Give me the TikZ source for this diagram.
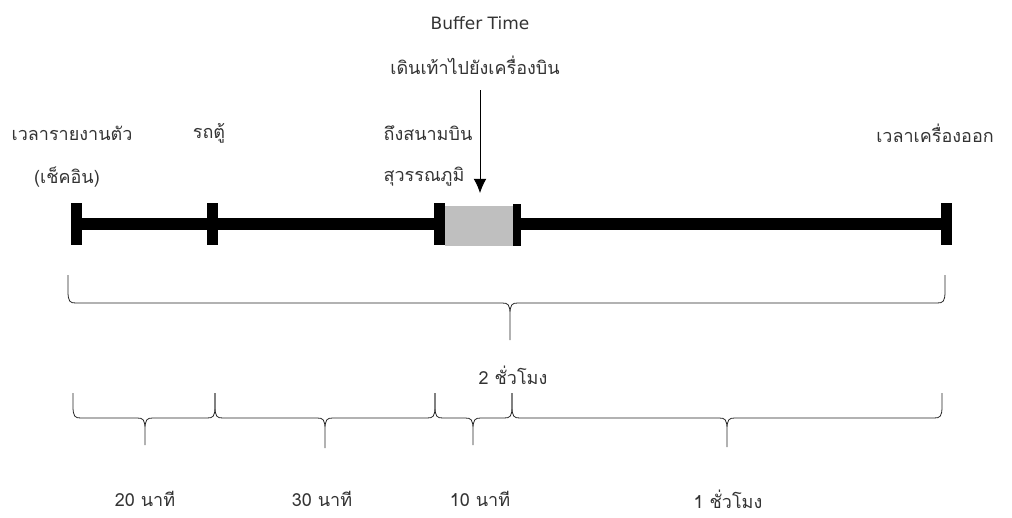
\documentclass[tikz,border=0pt]{standalone}
\usepackage{fontspec}
\newfontfamily\thaifont[Script=Thai]{Loma}
\newfontfamily\latinfont{DejaVu Sans}
\usetikzlibrary{arrows.meta}
% brace: x1, x2, xtip, ytop, ymid, ytip
\newcommand{\timebrace}[6]{%
  \draw[brc] (#1,#4) -- (#1,#5-12) .. controls (#1,#5-1) and (#1+2,#5) .. (#1+8,#5)
    -- (#3-8,#5) .. controls (#3-2,#5) and (#3,#5+1) .. (#3,#5+12) -- (#3,#6)
    -- (#3,#5+12) .. controls (#3,#5+1) and (#3+2,#5) .. (#3+8,#5)
    -- (#2-8,#5) .. controls (#2-2,#5) and (#2,#5-1) .. (#2,#5-12) -- (#2,#4);}

\begin{document}
\begin{tikzpicture}[x=1pt, y=-1pt, >={Latex[length=5mm,width=4.5mm]},
  lbl/.style={font=\thaifont\fontsize{18}{22}\selectfont, text=black!80, inner sep=0pt},
  tickmark/.style={fill=black, inner sep=0pt, minimum width=11pt, minimum height=42pt},
  brc/.style={line width=0.8pt, black!85}]
  \useasboundingbox (0,0) rectangle (1012,517);

  % labels above the line
  \node[lbl, font=\latinfont\fontsize{17}{20}\selectfont] (buffer) at (480,23) {Buffer Time};
  \node[lbl] (walk) at (475,65) {เดินเท้าไปยังเครื่องบิน};
  \node[lbl] (report) at (72,133) {เวลารายงานตัว};
  \node[lbl] (checkin) at (67,177) {(เช็คอิน)};
  \node[lbl] (van) at (209,133) {รถตู้};
  \node[lbl] (arrive) at (428,133) {ถึงสนามบิน};
  \node[lbl] (suvarna) at (424,177) {สุวรรณภูมิ};
  \node[lbl] (depart) at (935,133) {เวลาเครื่องออก};

  % time line
  \node[tickmark] (t1) at (76,224) {};
  \node[tickmark] (t2) at (212,224) {};
  \node[tickmark] (t3) at (439,224) {};
  \node[tickmark, minimum width=8pt] (t4) at (517,225) {};
  \node[tickmark] (t5) at (946,224) {};
  \draw[line width=12pt] (t1.center) -- (t5.center);
  \node[fill=black!25, inner sep=0pt, minimum width=68pt, minimum height=40pt] (buf) at (479,226) {};
  \coordinate (arrtop) at (480,90);
  \coordinate (arrtip) at (480,193);
  \draw[->, line width=0.8pt] (arrtop) -- (arrtip);

  % braces
  \timebrace{68}{945}{510}{275}{303}{340}
  \node[lbl] (total) at (513,375) {2 ชั่วโมง};
  \timebrace{73}{215}{145}{393}{418}{445}
  \timebrace{215}{435}{325}{393}{418}{448}
  \timebrace{435}{512}{473}{393}{418}{445}
  \timebrace{512}{942}{727}{393}{418}{447}
  \node[lbl] (m20) at (145,499) {20 นาที};
  \node[lbl] (m30) at (322,499) {30 นาที};
  \node[lbl] (m10) at (480,499) {10 นาที};
  \node[lbl] (h1) at (728,499) {1 ชั่วโมง};
\end{tikzpicture}
\end{document}
